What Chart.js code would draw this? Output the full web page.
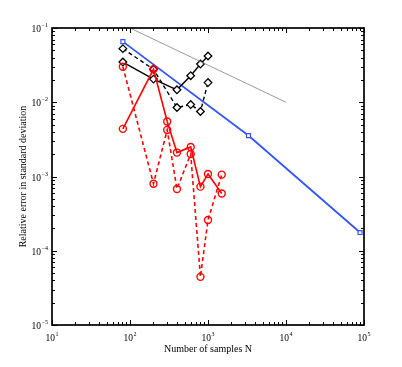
<!DOCTYPE html>
<html><head><meta charset="utf-8">
<script src="https://cdn.jsdelivr.net/npm/chart.js@4"></script>
<style>html,body{margin:0;padding:0;background:#fff}#wrap{width:402px;height:367px}</style>
</head><body><div id="wrap"><canvas id="c" width="402" height="367"></canvas></div>
<script>
const xTickExp=[1,2,3,4,5];
const yTickExp=[-5,-4,-3,-2,-1];
const xTitle="Number of samples N";
const yTitle="Relative error in standard deviation";
const nBlue=[81,3300,89000];
const errBlue=[0.0655,0.00356,0.000176];
const nBlack=[81,200,400,600,800,1000];
const errBlackSolid=[0.0348,0.0205,0.0147,0.0228,0.0327,0.0420];
const errBlackDashed=[0.0527,0.0278,0.0085,0.0093,0.0075,0.0184];
const nRed=[81,200,300,400,600,800,1000,1500];
const errRedSolid=[0.00438,0.0278,0.0055,0.0021,0.0025,0.00073,0.00108,0.00059];
const errRedDashed=[0.0301,0.0008,0.00424,0.00068,0.00201,0.0000445,0.00026,0.00106];
const nRef=[100,10000];
const errRef=[0.1,0.01];

const pts=(xs,ys)=>xs.map((x,i)=>({x:x,y:ys[i]}));
const FONT='"Liberation Serif","DejaVu Serif",serif';

const axesPlugin={
  id:'matlabAxes',
  afterDraw(chart){
    const ctx=chart.ctx, a=chart.chartArea, xs=chart.scales.x, ys=chart.scales.y;
    ctx.save();
    ctx.strokeStyle='#000'; ctx.lineWidth=1.7;
    const L=Math.round(a.left),R=Math.round(a.right),T=Math.round(a.top),B=Math.round(a.bottom);
    ctx.strokeRect(L,T,R-L,B-T);
    ctx.lineWidth=1;
    ctx.beginPath();
    for(let d=1; d<=5; d++){
      for(let m=1;m<=9;m++){
        if(d===5 && m>1) break;
        const v=m*Math.pow(10,d);
        const px=Math.round(xs.getPixelForValue(v))+0.5;
        const len=m===1?5:3;
        ctx.moveTo(px,B); ctx.lineTo(px,B-len);
        ctx.moveTo(px,T); ctx.lineTo(px,T+len);
      }
    }
    for(let d=-5; d<=-1; d++){
      for(let m=1;m<=9;m++){
        if(d===-1 && m>1) break;
        const v=m*Math.pow(10,d);
        const py=Math.round(ys.getPixelForValue(v))+0.5;
        const len=m===1?5:3;
        ctx.moveTo(L,py); ctx.lineTo(L+len,py);
        ctx.moveTo(R,py); ctx.lineTo(R-len,py);
      }
    }
    ctx.stroke();
    ctx.fillStyle='#000';
    ctx.textBaseline='alphabetic';
    const big='9.5px '+FONT, small='6px '+FONT;
    xTickExp.forEach(e=>{
      const px=xs.getPixelForValue(Math.pow(10,e));
      ctx.font=big; const w1=ctx.measureText('10').width;
      ctx.font=small; const es=String(e); const w2=ctx.measureText(es).width;
      const x0=px-(w1+w2+0.5)/2;
      ctx.font=big; ctx.textAlign='left'; ctx.fillText('10',x0,a.bottom+16);
      ctx.font=small; ctx.fillText(es,x0+w1+0.5,a.bottom+11);
    });
    yTickExp.forEach(e=>{
      const py=ys.getPixelForValue(Math.pow(10,e));
      const es='\u2212'+String(-e);
      ctx.font=small; const w2=ctx.measureText(es).width;
      ctx.font=big; const w1=ctx.measureText('10').width;
      const xr=a.left-4;
      ctx.textAlign='left';
      ctx.fillText('10',xr-w2-w1-0.5,py+4);
      ctx.font=small; ctx.fillText(es,xr-w2,py-1);
    });
    ctx.font='10px '+FONT; ctx.textAlign='center';
    ctx.fillText(xTitle,(a.left+a.right)/2,a.bottom+27);
    ctx.translate(26,(a.top+a.bottom)/2);
    ctx.rotate(-Math.PI/2);
    ctx.fillText(yTitle,0,0);
    ctx.restore();
  }
};

new Chart(document.getElementById('c'),{
  type:'line',
  data:{datasets:[
    {data:pts(nRef,errRef),borderColor:'#808080',borderWidth:0.8,pointRadius:0,fill:false},
    {data:pts(nRed,errRedDashed),borderColor:'#ff0000',borderWidth:1.6,borderDash:[4,3],pointStyle:'circle',pointRadius:3.5,pointBorderWidth:1.4,pointBackgroundColor:'rgba(255,255,255,0)',pointBorderColor:'#ff0000',fill:false},
    {data:pts(nRed,errRedSolid),borderColor:'#ff0000',borderWidth:1.6,pointStyle:'circle',pointRadius:3.5,pointBorderWidth:1.4,pointBackgroundColor:'rgba(255,255,255,0)',pointBorderColor:'#ff0000',fill:false},
    {data:pts(nBlack,errBlackDashed),borderColor:'#000',borderWidth:1.4,borderDash:[4,3],pointStyle:'rectRot',pointRadius:3.8,pointBorderWidth:1.3,pointBackgroundColor:'#fff',pointBorderColor:'#000',fill:false},
    {data:pts(nBlack,errBlackSolid),borderColor:'#000',borderWidth:1.4,pointStyle:'rectRot',pointRadius:3.8,pointBorderWidth:1.3,pointBackgroundColor:'#fff',pointBorderColor:'#000',fill:false},
    {data:pts(nBlue,errBlue),borderColor:'#3355ff',borderWidth:1.8,pointStyle:'rect',pointRadius:2.8,pointBorderWidth:1.2,pointBackgroundColor:'#fff',pointBorderColor:'#3355ff',fill:false}
  ]},
  options:{
    responsive:false,animation:false,devicePixelRatio:1,
    layout:{padding:{top:28,right:38,left:0,bottom:0}},
    plugins:{legend:{display:false},tooltip:{enabled:false},title:{display:false}},
    elements:{line:{tension:0}},
    scales:{
      x:{type:'logarithmic',min:10,max:100000,ticks:{display:false},grid:{display:false},border:{display:false},afterFit:s=>{s.height=42;}},
      y:{type:'logarithmic',min:1e-5,max:1e-1,ticks:{display:false},grid:{display:false},border:{display:false},afterFit:s=>{s.width=52;}}
    }
  },
  plugins:[axesPlugin]
});
</script></body></html>
